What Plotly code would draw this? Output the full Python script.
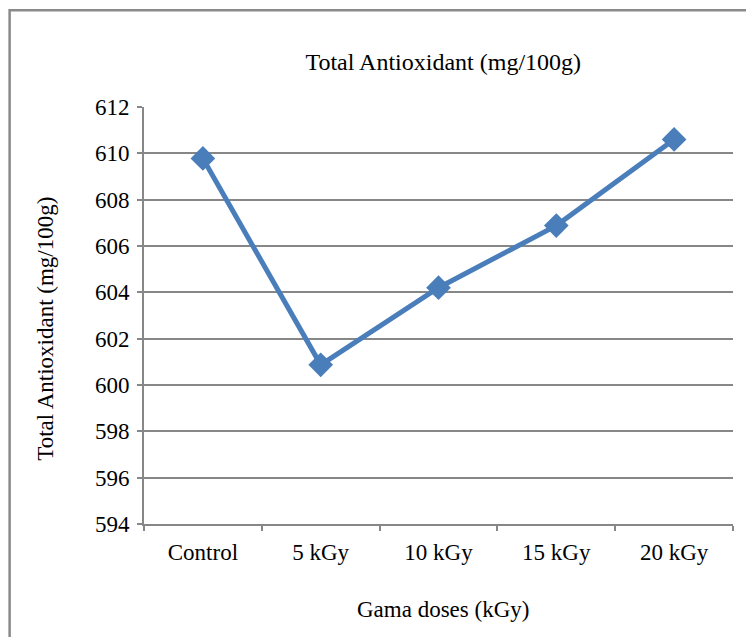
import plotly.graph_objects as go

categories = ["Control", "5 kGy", "10 kGy", "15 kGy", "20 kGy"]
values = [609.78, 600.87, 604.2, 606.88, 610.6]
y_ticks = [594, 596, 598, 600, 602, 604, 606, 608, 610, 612]

W, H = 754, 637
L, R, T, B = 135.5, 29, 98.7, 121
pw = W - L - R
ph = H - T - B

FONT = "Liberation Serif, Times New Roman, serif"
gray = "#878787"

fig = go.Figure()
fig.add_trace(go.Scatter(
    x=categories, y=values, mode="lines+markers",
    line=dict(color="#4A7EBB", width=5),
    marker=dict(symbol="diamond", size=19, color="#4A7EBB"),
    showlegend=False,
))

def px_x(p):
    return (p - L) / pw

def px_y(p):
    return (H - B - p) / ph

fig.update_layout(
    width=W, height=H,
    margin=dict(l=L, r=R, t=T, b=B),
    paper_bgcolor="white", plot_bgcolor="white",
    font=dict(family=FONT, size=23, color="#000000"),
    title=dict(text="Total Antioxidant (mg/100g)", x=px_x(435), xanchor="center",
               xref="paper", y=1 - 54 / H, yanchor="middle", font=dict(size=24)),
    xaxis=dict(
        type="category", showgrid=False, showline=True, linecolor=gray, linewidth=2,
        ticks="outside", tickson="boundaries", ticklen=5, tickcolor=gray, tickwidth=2,
        tickfont=dict(size=23), range=[-0.5, 4.5], ticklabelstandoff=6,
    ),
    yaxis=dict(
        range=[594, 612], tickvals=y_ticks, showgrid=True, gridcolor=gray, gridwidth=2,
        showline=True, linecolor=gray, linewidth=2, zeroline=False,
        ticks="outside", ticklen=5, tickcolor=gray, tickwidth=2,
        tickfont=dict(size=23), ticklabelstandoff=3,
    ),
    annotations=[
        dict(text="Gama doses (kGy)", xref="paper", yref="paper",
             x=px_x(435), y=px_y(602), xanchor="center", yanchor="middle",
             showarrow=False, font=dict(size=23)),
        dict(text="Total Antioxidant (mg/100g)", xref="paper", yref="paper",
             x=px_x(37), y=px_y(321), xanchor="center", yanchor="middle",
             textangle=-90, showarrow=False, font=dict(size=23)),
    ],
    shapes=[dict(
        type="rect", xref="paper", yref="paper",
        x0=px_x(1), x1=px_x(780), y0=px_y(680), y1=px_y(2),
        line=dict(color="#8a8a8a", width=2.5), fillcolor="rgba(0,0,0,0)", layer="below",
    )],
)

fig.write_html("out.html")
